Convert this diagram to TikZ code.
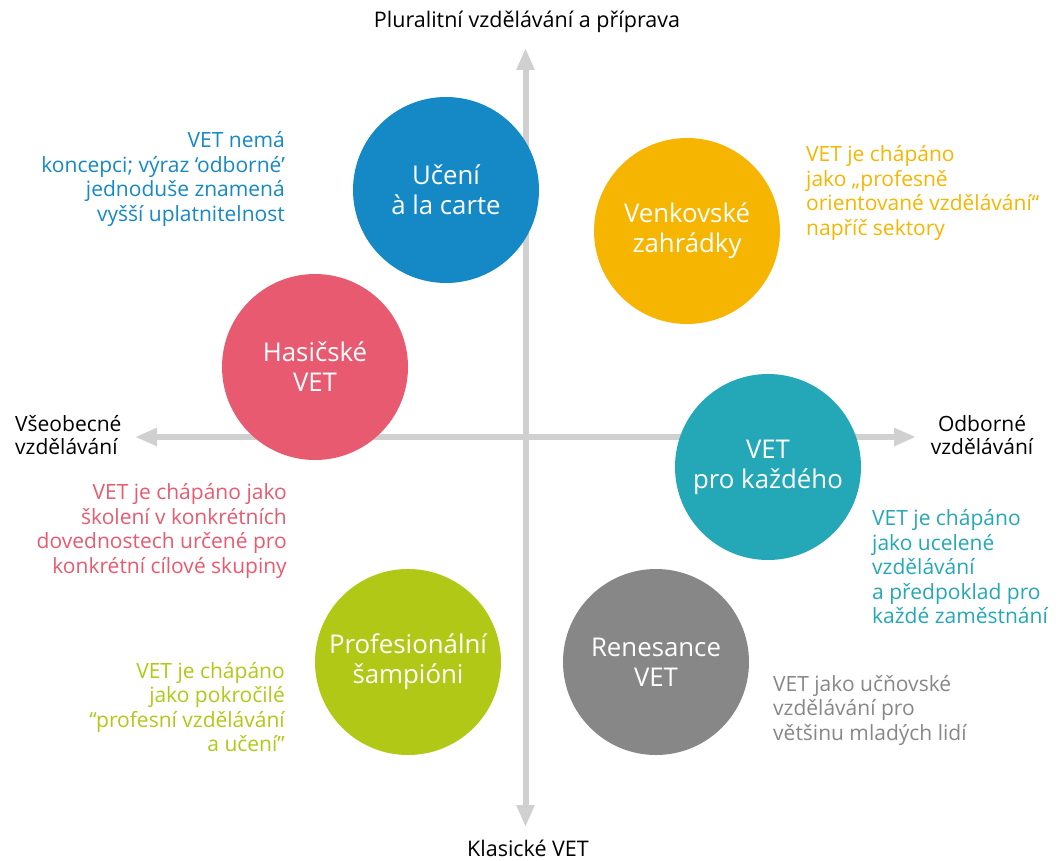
\documentclass[tikz,border=0pt]{standalone}
\usepackage{fontspec}
\setmainfont{Open Sans}
\usetikzlibrary{arrows.meta}

\definecolor{modra}{HTML}{1588C6}
\definecolor{zluta}{HTML}{F6B500}
\definecolor{ruzova}{HTML}{E85A70}
\definecolor{tyrkys}{HTML}{24A7B7}
\definecolor{zelena}{HTML}{B1C816}
\definecolor{seda}{HTML}{878787}
\definecolor{osaseda}{HTML}{D0D0D0}

\tikzset{
  kruh/.style={circle, minimum size=186pt, inner sep=0pt, text=white, align=center,
    font=\fontsize{25.8}{30}\selectfont},
  popis/.style={inner sep=0pt, font=\fontsize{21}{24.5}\selectfont},
  osatext/.style={inner sep=0pt, font=\fontsize{21.5}{23.5}\selectfont},
  osa/.style={draw=osaseda, line width=6pt,
    {Triangle[width=17pt,length=22pt]}-{Triangle[width=17pt,length=22pt]}}
}

\begin{document}
\begin{tikzpicture}[x=1pt,y=-1pt]
  \useasboundingbox (0,0) rectangle (1059,861);

  % Osy
  \coordinate (horni) at (525.5,48);
  \coordinate (dolni) at (525.5,827);
  \coordinate (levy) at (135,437);
  \coordinate (pravy) at (916,437);
  \draw[osa] (dolni) -- (horni);
  \draw[osa] (levy) -- (pravy);

  % Popisky os
  \node[osatext] (plural) at (527,22) {Pluralitní vzdělávání a příprava};
  \node[osatext] (klasicke) at (528,848) {Klasické VET};
  \node[osatext, align=left, anchor=west, font=\fontsize{21}{23.5}\selectfont] (vseobecne) at (15,435) {Všeobecné\\vzdělávání};
  \node[osatext, align=center, font=\fontsize{21}{23.5}\selectfont] (odborne) at (982,435) {Odborné\\vzdělávání};

  % Kruhy
  \node[kruh, fill=modra] (alacarte) at (446,190) {Učení\\à la carte};
  \node[kruh, fill=zluta] (zahradky) at (687,231) {Venkovské\\zahrádky};
  \node[kruh, fill=ruzova] (hasicske) at (315,367) {Hasičské\\VET};
  \node[kruh, fill=tyrkys] (kazdy) at (768,467) {VET\\pro každého};
  \node[kruh, fill=zelena] (sampioni) at (408,662) {Profesionální\\šampióni};
  \node[kruh, fill=seda] (renesance) at (656,662) {Renesance\\VET};

  % Texty
  \node[popis, text=modra, align=right, anchor=east] (tmodra) at (285,179)
    {VET nemá\\koncepci; výraz ‘odborné’\\jednoduše znamená\\vyšší uplatnitelnost};
  \node[popis, text=zluta, align=left, anchor=west] (tzluta) at (806,193)
    {VET je chápáno\\jako „profesně\\orientované vzdělávání“\\napříč sektory};
  \node[popis, text=ruzova, align=right, anchor=east] (truzova) at (287,531)
    {VET je chápáno jako\\školení v konkrétních\\dovednostech určené pro\\konkrétní cílové skupiny};
  \node[popis, text=tyrkys, align=left, anchor=west] (ttyrkys) at (872,567)
    {VET je chápáno\\jako ucelené\\vzdělávání\\a předpoklad pro\\každé zaměstnání};
  \node[popis, text=zelena, align=right, anchor=east] (tzelena) at (285,707)
    {VET je chápáno\\jako pokročilé\\“profesní vzdělávání\\a učení”};
  \node[popis, text=seda, align=left, anchor=west] (tseda) at (773,710)
    {VET jako učňovské\\vzdělávání pro\\většinu mladých lidí};
\end{tikzpicture}
\end{document}
